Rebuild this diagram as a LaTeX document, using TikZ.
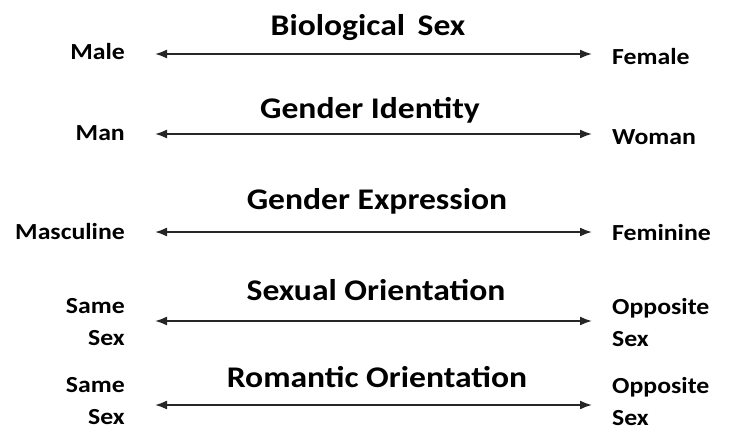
\documentclass[tikz,border=0pt]{standalone}
\usepackage{fontspec}
\setmainfont[FakeStretch=1.12]{Carlito}
\usepackage{tikz}
\usetikzlibrary{arrows.meta, positioning}

\begin{document}
\begin{tikzpicture}[x=1pt, y=-1pt,
    titel/.style={font=\fontsize{30}{32}\selectfont\bfseries, inner sep=0pt},
    pol/.style={font=\fontsize{23}{32}\selectfont\bfseries, inner sep=0pt, align=left},
    polL/.style={pol, anchor=east, align=right},
    polR/.style={pol, anchor=west},
    axe/.style={{Latex[length=12pt, width=9pt]}-{Latex[length=12pt, width=9pt]}, line width=1.8pt, black!85}]
            \useasboundingbox (0,0) rectangle (737,432);
            % sexe biologique
            \node[titel] (bs) at (368,28) {Biological\, Sex};
            \node[polL] (bsL) at (125,52) {Male};
            \node[polR] (bsR) at (612,57) {Female};
            \coordinate (bsA) at (155,54);
            \coordinate (bsB) at (592,54);
            \draw[axe] (bsA) -- (bsB);
            % identite
            \node[titel] (gi) at (370,110) {Gender Identity};
            \node[polL] (giL) at (125,133) {Man};
            \node[polR] (giR) at (612,137) {Woman};
            \coordinate (giA) at (155,134);
            \coordinate (giB) at (592,134);
            \draw[axe] (giA) -- (giB);
            % expression
            \node[titel] (ge) at (377,201) {Gender Expression};
            \node[polL] (geL) at (125,232) {Masculine};
            \node[polR] (geR) at (612,233) {Feminine};
            \coordinate (geA) at (155,232);
            \coordinate (geB) at (592,232);
            \draw[axe] (geA) -- (geB);
            % orientation sexuelle
            \node[titel] (so) at (376,290) {Sexual Orientation};
            \node[polL] (soL) at (125,322) {Same\\Sex};
            \node[polR] (soR) at (612,323) {Opposite\\Sex};
            \coordinate (soA) at (155,321);
            \coordinate (soB) at (592,321);
            \draw[axe] (soA) -- (soB);
            % orientation romantique
            \node[titel] (ro) at (377,377) {Romantic Orientation};
            \node[polL] (roL) at (125,401) {Same\\Sex};
            \node[polR] (roR) at (612,402) {Opposite\\Sex};
            \coordinate (roA) at (155,405);
            \coordinate (roB) at (592,405);
            \draw[axe] (roA) -- (roB);
        \end{tikzpicture}
\end{document}
